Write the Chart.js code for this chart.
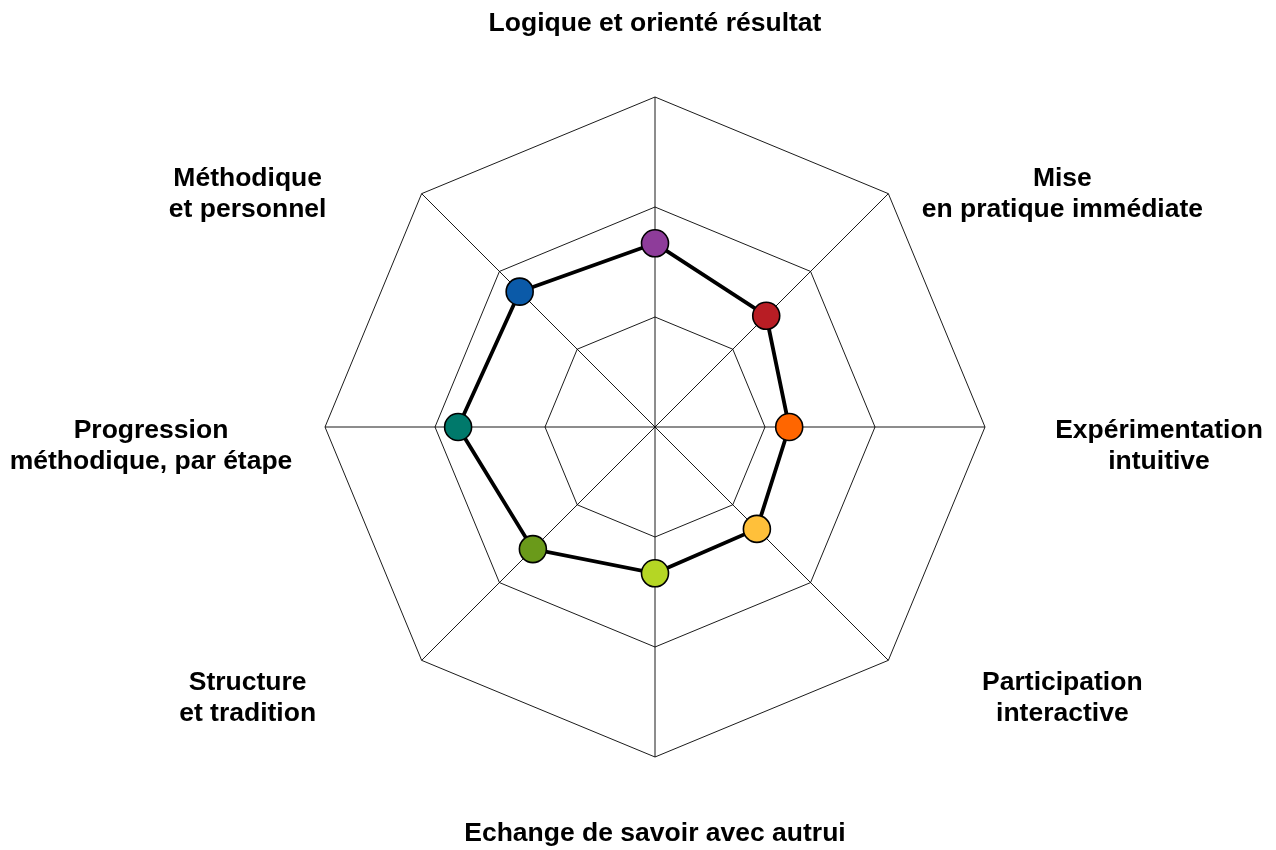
<!DOCTYPE html>
<html>
<head>
<meta charset="utf-8">
<script src="https://cdn.jsdelivr.net/npm/chart.js@4/dist/chart.umd.min.js"></script>
<style>
  html, body { margin: 0; padding: 0; background: #fff; }
  #wrap { width: 1276px; height: 850px; position: relative; }
</style>
</head>
<body>
<div id="wrap"><canvas id="myChart"></canvas></div>
<script>
// Chart data
const labels = [
  "Logique et orienté résultat",
  ["Mise", "en pratique immédiate"],
  ["Expérimentation", "intuitive"],
  ["Participation", "interactive"],
  "Echange de savoir avec autrui",
  ["Structure", "et tradition"],
  ["Progression", "méthodique, par étape"],
  ["Méthodique", "et personnel"],
];
const scores = [1.67, 1.43, 1.22, 1.31, 1.33, 1.57, 1.79, 1.74];
const pointColors = [
  "#8e3c9a", "#b81d24", "#ff6600", "#ffc03a",
  "#b5d624", "#6a9a1a", "#00796b", "#0b5aa8",
];
const scaleMax = 3;

const ctx = document.getElementById("myChart");

// point labels drawn as centered text blocks (Excel style)
const centeredLabels = {
  id: "centeredLabels",
  afterDraw: (chart) => {
    const scale = chart.scales.r;
    const c = chart.ctx;
    const lineH = 31;
    c.save();
    c.font = "bold 26.5px 'Liberation Sans', Arial, sans-serif";
    c.fillStyle = "#000";
    c.textAlign = "center";
    c.textBaseline = "middle";
    labels.forEach((lbl, i) => {
      const lines = Array.isArray(lbl) ? lbl : [lbl];
      const p = scale.getPointPosition(i, scale.drawingArea);
      const a = (i * 2 * Math.PI) / labels.length;
      const s = Math.round(Math.sin(a) * 1000) / 1000;
      const co = Math.cos(a);
      let cx = p.x, cy;
      if (s === 0) {
        cy = p.y - co * 75;
      } else {
        cx = p.x + Math.sign(s) * 174;
        cy = p.y + 17 - 26 * co;
      }
      const top = cy + 2 - (lines.length * lineH) / 2;
      lines.forEach((t, k) => {
        c.fillText(t, cx, top + lineH * (k + 0.5));
      });
    });
    c.restore();
  },
};

const data = {
  labels: labels,
  datasets: [
    {
      data: scores,
      borderColor: "#000",
      borderWidth: 3.8,
      fill: false,
      pointRadius: 13.5,
      pointHoverRadius: 13.5,
      pointBorderWidth: 1.6,
      pointBorderColor: "#000",
      pointBackgroundColor: pointColors,
    },
  ],
};

const config = {
  type: "radar",
  data,
  options: {
    responsive: true,
    maintainAspectRatio: false,
    animation: false,
    layout: { padding: { top: 97, bottom: 93, left: 34, right: 0 } },
    plugins: {
      legend: { display: false },
      tooltip: { enabled: false },
    },
    scales: {
      r: {
        min: 0,
        max: scaleMax,
        ticks: { display: false, stepSize: 1 },
        grid: { color: "#000", lineWidth: 0.9 },
        angleLines: { color: "#000", lineWidth: 0.9 },
        pointLabels: { display: false },
      },
    },
  },
  plugins: [centeredLabels],
};

new Chart(ctx, config);
</script>
</body>
</html>
